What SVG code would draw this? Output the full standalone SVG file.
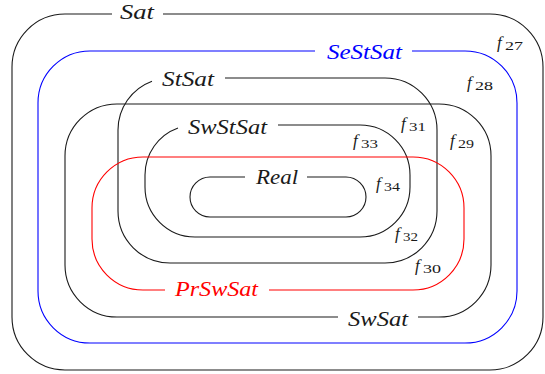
<svg xmlns="http://www.w3.org/2000/svg" width="545" height="374" viewBox="0 0 545 374">
<style>
.b{fill:none;stroke:#1a1a1a;stroke-width:1.1}
.blue{fill:none;stroke:#0000ff;stroke-width:1.1}
.red{fill:none;stroke:#ff0000;stroke-width:1.1}
.lab{font-family:"Liberation Serif",serif;font-style:italic;font-size:21px;fill:#1a1a1a}
.f{font-family:"Liberation Serif",serif;font-style:italic;font-size:17px;fill:#1a1a1a}
.s{font-family:"Liberation Serif",serif;font-size:12px;fill:#1a1a1a}
</style>
<rect width="545" height="374" fill="#ffffff"/>
<g id="Sat">
<path class="b" d="M163,14 H490 A53,53 0 0 1 543,67 V317 A53,53 0 0 1 490,370 H65 A53,53 0 0 1 12,317 V67 A53,53 0 0 1 65,14 H112"/>
<text class="lab" x="120" y="18.5" textLength="34" lengthAdjust="spacingAndGlyphs">Sat</text>
</g>
<g id="SeStSat">
<path class="blue" d="M412,51 H465 A52,52 0 0 1 517,103 V291 A52,52 0 0 1 465,343 H90 A52,52 0 0 1 38,291 V103 A52,52 0 0 1 90,51 H315"/>
<text class="lab" x="327" y="59" style="fill:#0000ff" textLength="75" lengthAdjust="spacingAndGlyphs">SeStSat</text>
</g>
<g id="StSat">
<path class="b" d="M225,78 H385 A52,52 0 0 1 437,130 V211 A52,52 0 0 1 385,263 H170 A52,52 0 0 1 118,211 V130 A52,52 0 0 1 152,81.2"/>
<text class="lab" x="162" y="86" textLength="52" lengthAdjust="spacingAndGlyphs">StSat</text>
</g>
<g id="SwSat">
<path class="b" d="M338,317 H117 A52,52 0 0 1 65,265 V156 A52,52 0 0 1 117,104 H439 A52,52 0 0 1 491,156 V265 A52,52 0 0 1 439,317 H418"/>
<text class="lab" x="348" y="326" textLength="60" lengthAdjust="spacingAndGlyphs">SwSat</text>
</g>
<g id="SwStSat">
<path class="b" d="M278,125 H360 A50,50 0 0 1 410,175 V187 A50,50 0 0 1 360,237 H195 A50,50 0 0 1 145,187 V175 A50,50 0 0 1 178,128"/>
<text class="lab" x="188" y="133.5" textLength="79" lengthAdjust="spacingAndGlyphs">SwStSat</text>
</g>
<g id="PrSwSat">
<path class="red" d="M269,290 H413 A51,51 0 0 0 464,239 V208 A51,51 0 0 0 413,157 H143 A51,51 0 0 0 92,208 V239 A51,51 0 0 0 143,290 H165"/>
<text class="lab" x="175" y="295.5" style="fill:#ff0000" textLength="83" lengthAdjust="spacingAndGlyphs">PrSwSat</text>
</g>
<g id="Real">
<path class="b" d="M307,177 H346 A20,20 0 0 1 366,197 A20,20 0 0 1 346,217 H210 A20,20 0 0 1 190,197 A20,20 0 0 1 210,177 H245"/>
<text class="lab" x="256" y="184" textLength="42" lengthAdjust="spacingAndGlyphs">Real</text>
</g>
<g id="connectors">
<g id="f27"><text class="f" x="497" y="48">f</text><text class="s" x="505" y="49.5" textLength="18" lengthAdjust="spacingAndGlyphs">27</text></g>
<g id="f28"><text class="f" x="467" y="88">f</text><text class="s" x="475" y="89.5" textLength="18" lengthAdjust="spacingAndGlyphs">28</text></g>
<g id="f31"><text class="f" x="401" y="129">f</text><text class="s" x="409" y="130.5" textLength="17" lengthAdjust="spacingAndGlyphs">31</text></g>
<g id="f33"><text class="f" x="353" y="146">f</text><text class="s" x="361" y="147.5" textLength="17" lengthAdjust="spacingAndGlyphs">33</text></g>
<g id="f29"><text class="f" x="450" y="146">f</text><text class="s" x="458" y="147.5" textLength="16" lengthAdjust="spacingAndGlyphs">29</text></g>
<g id="f34"><text class="f" x="376" y="189">f</text><text class="s" x="384" y="190.5" textLength="16" lengthAdjust="spacingAndGlyphs">34</text></g>
<g id="f32"><text class="f" x="395" y="239">f</text><text class="s" x="403" y="240.5" textLength="15" lengthAdjust="spacingAndGlyphs">32</text></g>
<g id="f30"><text class="f" x="415" y="271">f</text><text class="s" x="423" y="272.5" textLength="18" lengthAdjust="spacingAndGlyphs">30</text></g>
</g>
</svg>
